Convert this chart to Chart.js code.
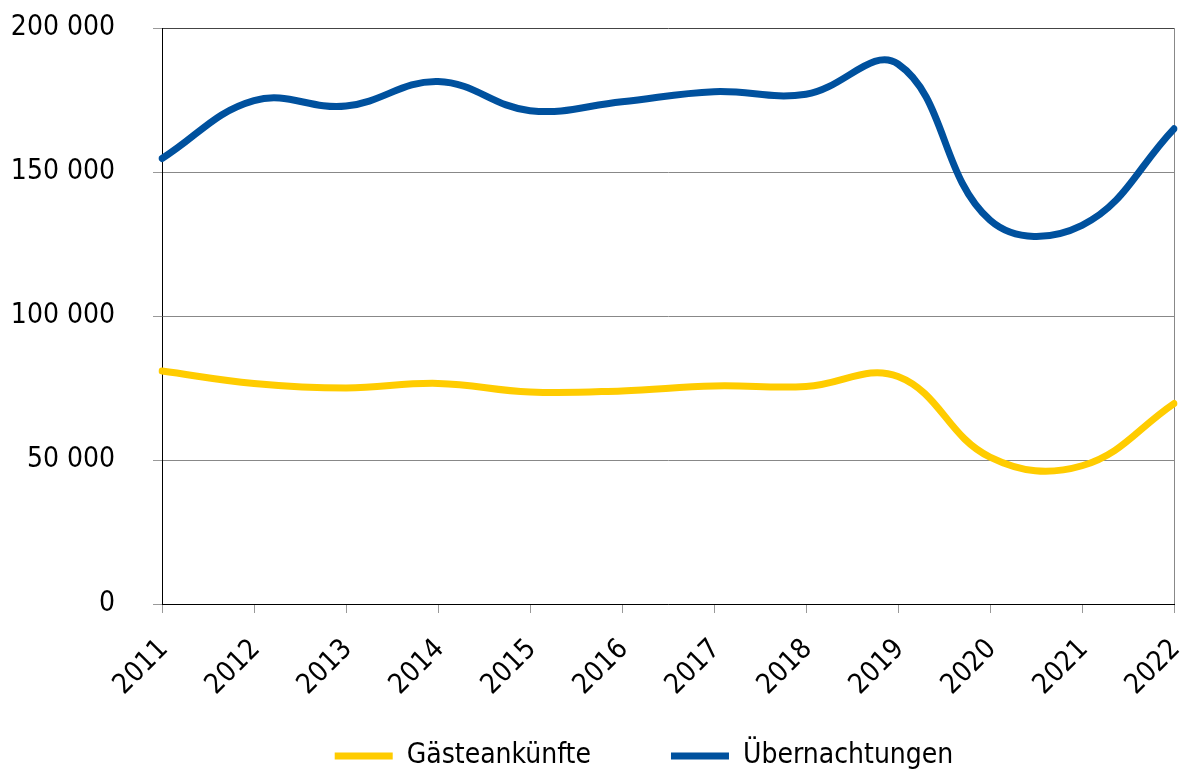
<!DOCTYPE html>
<html>
<head>
<meta charset="utf-8">
<script src="https://cdn.jsdelivr.net/npm/chart.js@4"></script>
<style>
  html, body { margin: 0; padding: 0; background: #fff; }
  #wrap { width: 1184px; height: 769px; }
</style>
</head>
<body>
<div id="wrap"><canvas id="chart" width="1184" height="769"></canvas></div>
<script>
// Data
const years = ['2011', '2012', '2013', '2014', '2015', '2016', '2017', '2018', '2019', '2020', '2021', '2022'];
const gaesteankuenfte = [80900, 76600, 75000, 76600, 73600, 74000, 75700, 75500, 79000, 51000, 48000, 69600];
const uebernachtungen = [154700, 174800, 172900, 181400, 171300, 174400, 177900, 177000, 187500, 133300, 131500, 165000];
const yTicks = [0, 50000, 100000, 150000, 200000];

const FONT = 'DejaVu Sans Condensed';

// thousands with a space, like "150 000"
function fmt(v) {
    return String(v).replace(/\B(?=(\d{3})+(?!\d))/g, ' ');
}

// tick labels reach outside their axis box, so don't clip them
function noLabelClip(s) {
    s._computeLabelArea = () => undefined;
}

const ctx = document.getElementById('chart');
const chart = new Chart(ctx, {
    type: 'line',
    data: {
        labels: years,
        datasets: [
            {
                label: 'Gästeankünfte',
                data: gaesteankuenfte,
                borderColor: '#FFCC00',
                backgroundColor: '#FFCC00',
                borderWidth: 7,
                borderCapStyle: 'round',
                pointRadius: 0,
                tension: 0.4,
                fill: false
            },
            {
                label: 'Übernachtungen',
                data: uebernachtungen,
                borderColor: '#00519E',
                backgroundColor: '#00519E',
                borderWidth: 7,
                borderCapStyle: 'round',
                pointRadius: 0,
                tension: 0.4,
                fill: false
            }
        ]
    },
    options: {
        responsive: false,
        animation: false,
        layout: { padding: { left: 114, right: 10, top: 28, bottom: -11 } },
        plugins: {
            tooltip: { enabled: false },
            legend: {
                position: 'bottom',
                labels: {
                    usePointStyle: true,
                    pointStyle: 'line',
                    pointStyleWidth: 58,
                    boxWidth: 52,
                    boxHeight: 20,
                    padding: 80,
                    color: '#000',
                    font: { family: FONT, size: 28 }
                }
            }
        },
        scales: {
            x: {
                offset: false,
                border: { display: true, color: '#000', width: 1 },
                grid: {
                    drawOnChartArea: true,
                    color: c => (c.index === years.length - 1 ? '#888' : 'rgba(0,0,0,0)'),
                    tickColor: '#999',
                    tickLength: 9
                },
                ticks: {
                    color: '#000',
                    maxRotation: 45,
                    minRotation: 45,
                    labelOffset: 2,
                    padding: 20,
                    font: { family: FONT, size: 28 }
                },
                afterFit: s => {
                    s.paddingLeft = 0;
                    s.paddingRight = 0;
                    s.height = 58;
                    noLabelClip(s);
                }
            },
            y: {
                min: 0,
                max: 200000,
                border: { display: true, color: '#000', width: 1 },
                grid: {
                    color: c => (c.tick.value === 200000 ? '#444' : '#888'),
                    tickColor: '#999',
                    tickLength: 9
                },
                afterBuildTicks: s => {
                    s.ticks = yTicks.map(v => ({ value: v }));
                },
                ticks: {
                    color: '#000',
                    padding: 38,
                    callback: v => fmt(v),
                    font: { family: FONT, size: 28 }
                },
                afterFit: s => {
                    s.width = 48;
                    s.paddingTop = 0;
                    s.paddingBottom = 0;
                    noLabelClip(s);
                }
            }
        }
    }
});
</script>
</body>
</html>
